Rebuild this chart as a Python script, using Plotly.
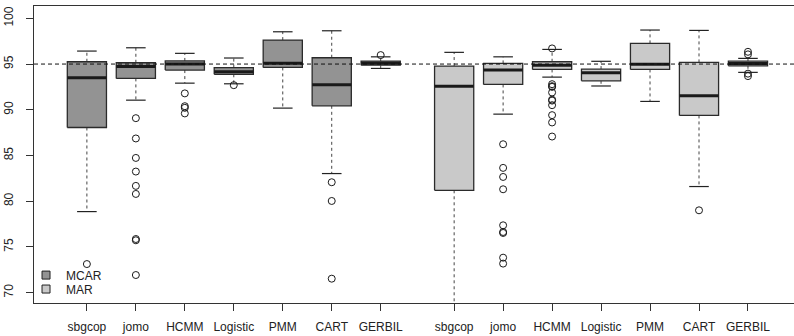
import plotly.graph_objects as go

# ---------------- data ----------------
METHODS = ["sbgcop", "jomo", "HCMM", "Logistic", "PMM", "CART", "GERBIL"]
GROUPS = ["MCAR", "MAR"]

# five-number summaries per method (lower whisker, Q1, median, Q3, upper whisker)
MCAR_LOW = [78.86, 91.05, 92.91, 92.84, 90.18, 83.02, 94.52]
MCAR_Q1 = [88.06, 93.43, 94.34, 93.88, 94.63, 90.43, 94.88]
MCAR_MED = [93.49, 94.74, 95.00, 94.15, 95.10, 92.73, 95.10]
MCAR_Q3 = [95.25, 95.14, 95.34, 94.61, 97.62, 95.69, 95.32]
MCAR_HIGH = [96.42, 96.78, 96.17, 95.66, 98.53, 98.64, 95.79]
MCAR_OUT = [
    [73.12],
    [89.08, 86.86, 84.73, 83.24, 81.67, 80.79, 75.86, 75.72, 71.92],
    [91.79, 90.39, 90.21, 89.60],
    [92.69],
    [],
    [82.07, 80.02, 71.52],
    [95.98],
]

MAR_LOW = [67.00, 89.52, 93.57, 92.60, 90.91, 81.60, 94.09]
MAR_Q1 = [81.19, 92.77, 94.41, 93.17, 94.41, 89.38, 94.81]
MAR_MED = [92.58, 94.34, 94.88, 94.06, 94.99, 91.52, 95.07]
MAR_Q3 = [94.78, 95.07, 95.25, 94.45, 97.26, 95.18, 95.32]
MAR_HIGH = [96.28, 95.79, 96.60, 95.30, 98.72, 98.68, 95.62]
MAR_OUT = [
    [],
    [86.23, 83.64, 82.65, 81.30, 77.36, 76.63, 76.52, 73.82, 73.17],
    [96.71, 92.80, 92.58, 92.50, 91.89, 91.10, 91.00, 90.50, 89.41, 88.61, 87.07],
    [],
    [],
    [79.00],
    [96.34, 96.06, 93.95, 93.68],
]

REF_LINE = 95
Y_TICKS = [70, 75, 80, 85, 90, 95, 100]

# ---------------- styling / layout ----------------
FILL = {"MCAR": "#939393", "MAR": "#c9c9c9"}
EDGE = "#2b2b2b"
GROUP_SHIFT = {"MCAR": 0.0, "MAR": 7.5}
HALF_BOX = 0.4
HALF_CAP = 0.2
FONT = "Liberation Sans, Arial, Helvetica, sans-serif"
LEGEND_REF = {"MCAR": "legend", "MAR": "legend2"}
LEGEND_Y = {"MCAR": 0.094, "MAR": 0.047}

stats = {
    "MCAR": (MCAR_LOW, MCAR_Q1, MCAR_MED, MCAR_Q3, MCAR_HIGH, MCAR_OUT),
    "MAR": (MAR_LOW, MAR_Q1, MAR_MED, MAR_Q3, MAR_HIGH, MAR_OUT),
}

fig = go.Figure()
tickpos, ticktext = [], []

for g in GROUPS:
    low, q1, med, q3, high, outs = stats[g]
    pos = [i + 1 + GROUP_SHIFT[g] for i in range(len(METHODS))]
    tickpos += pos
    ticktext += METHODS

    wx, wy, cx, cy, bx, by, mx, my, ox, oy = [], [], [], [], [], [], [], [], [], []
    for p, lo, a, m, b, hi, o in zip(pos, low, q1, med, q3, high, outs):
        wx += [p, p, None, p, p, None]
        wy += [b, hi, None, a, lo, None]
        cx += [p - HALF_CAP, p + HALF_CAP, None, p - HALF_CAP, p + HALF_CAP, None]
        cy += [hi, hi, None, lo, lo, None]
        bx += [p - HALF_BOX, p + HALF_BOX, p + HALF_BOX, p - HALF_BOX, p - HALF_BOX, None]
        by += [a, a, b, b, a, None]
        mx += [p - HALF_BOX, p + HALF_BOX, None]
        my += [m, m, None]
        ox += [p] * len(o)
        oy += o

    fig.add_trace(go.Scatter(x=wx, y=wy, mode="lines", showlegend=False, hoverinfo="skip",
                             line=dict(color="#444444", width=1, dash="3px,3px")))
    fig.add_trace(go.Scatter(x=cx, y=cy, mode="lines", showlegend=False, hoverinfo="skip",
                             line=dict(color="#222222", width=1.2)))
    fig.add_trace(go.Scatter(x=bx, y=by, mode="lines", fill="toself", fillcolor=FILL[g],
                             showlegend=False, hoverinfo="skip",
                             line=dict(color=EDGE, width=1.3)))
    fig.add_trace(go.Scatter(x=mx, y=my, mode="lines", showlegend=False, hoverinfo="skip",
                             line=dict(color="#1a1a1a", width=3)))
    fig.add_trace(go.Scatter(x=ox, y=oy, mode="markers", showlegend=False,
                             marker=dict(symbol="circle-open", size=7, color="#1a1a1a",
                                         line=dict(width=1))))

# legend entries (one legend box each so they can sit close together)
for g in GROUPS:
    fig.add_trace(go.Scatter(x=[None], y=[None], mode="markers", name=g, legend=LEGEND_REF[g],
                             marker=dict(symbol="square", size=8, color=FILL[g],
                                         line=dict(color="#222222", width=1))))

fig.add_shape(type="line", xref="paper", x0=0, x1=1, yref="y", y0=REF_LINE, y1=REF_LINE,
              line=dict(color="#111111", width=1, dash="4px,3px"), layer="above")

leg_common = dict(x=-0.0105, xanchor="left", yanchor="middle",
                  bgcolor="rgba(0,0,0,0)", borderwidth=0,
                  font=dict(size=12, color="#222222"))

fig.update_layout(
    width=794, height=336,
    margin=dict(l=34, r=0, t=6, b=33, pad=0, autoexpand=False),
    paper_bgcolor="white", plot_bgcolor="white",
    font=dict(family=FONT, size=12, color="#222222"),
    showlegend=True,
    legend=dict(y=LEGEND_Y["MCAR"], **leg_common),
    legend2=dict(y=LEGEND_Y["MAR"], **leg_common),
    xaxis=dict(range=[-0.08, 15.44], tickvals=tickpos, ticktext=ticktext,
               showgrid=False, zeroline=False, showline=True, mirror=True,
               linecolor="#333333", linewidth=1, ticks="outside", ticklen=7,
               tickcolor="#333333", ticklabelstandoff=6, automargin=False),
    yaxis=dict(range=[68.86, 101.35], tickvals=Y_TICKS, tickangle=-90,
               showgrid=False, zeroline=False, showline=True, mirror=False,
               linecolor="#333333", linewidth=1, ticks="outside", ticklen=7,
               tickcolor="#333333", ticklabelstandoff=8, automargin=False),
)

fig.write_html("out.html",
               config={"displayModeBar": False},
               post_script="document.body.style.margin='0';document.body.style.overflow='hidden';")
